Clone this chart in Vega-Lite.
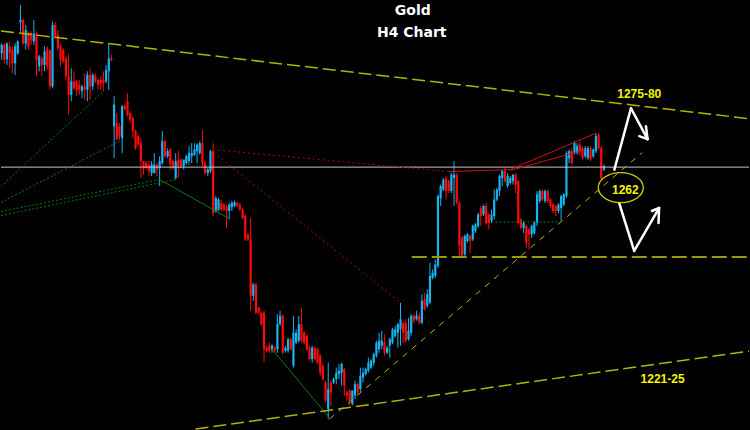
{
"$schema":"https://vega.github.io/schema/vega-lite/v6.json",
"width":750,"height":430,"padding":0,
"autosize":{"type":"fit","contains":"padding"},
"background":"#000000",
"config":{"view":{"stroke":null}},
"datasets":{
"candles":[
{"i":0,"o":1289.3,"h":1291.3,"l":1288,"c":1291},
{"i":1,"o":1291,"h":1291.3,"l":1287.3,"c":1288},
{"i":2,"o":1288.1,"h":1291.5,"l":1287,"c":1291.3},
{"i":3,"o":1290.7,"h":1291.7,"l":1286.3,"c":1289.3},
{"i":4,"o":1290,"h":1290.7,"l":1285.3,"c":1287.3},
{"i":5,"o":1287.3,"h":1291.3,"l":1285,"c":1290.7},
{"i":6,"o":1289.3,"h":1291.9,"l":1289,"c":1291.7},
{"i":7,"o":1295.5,"h":1299,"l":1293.7,"c":1296},
{"i":8,"o":1296,"h":1296.3,"l":1291,"c":1291.3},
{"i":9,"o":1291.3,"h":1295,"l":1290,"c":1294},
{"i":10,"o":1293.3,"h":1293.7,"l":1290,"c":1290.7},
{"i":11,"o":1293.3,"h":1293.7,"l":1291,"c":1292},
{"i":12,"o":1291.7,"h":1296,"l":1291,"c":1293.3},
{"i":13,"o":1293.3,"h":1293.7,"l":1284.7,"c":1288},
{"i":14,"o":1286.7,"h":1289,"l":1285.7,"c":1288.7},
{"i":15,"o":1288.3,"h":1288.7,"l":1284.7,"c":1287},
{"i":16,"o":1287,"h":1290.7,"l":1285.7,"c":1289.7},
{"i":17,"o":1290.3,"h":1290.7,"l":1286,"c":1286.7},
{"i":18,"o":1290,"h":1290,"l":1282,"c":1282.7},
{"i":19,"o":1282.7,"h":1295.7,"l":1282.3,"c":1295},
{"i":20,"o":1295,"h":1295.5,"l":1292.3,"c":1292.7},
{"i":21,"o":1293,"h":1294,"l":1290,"c":1290.3},
{"i":22,"o":1290.7,"h":1291.3,"l":1286.7,"c":1288},
{"i":23,"o":1290,"h":1290.3,"l":1287.3,"c":1287.7},
{"i":24,"o":1288.3,"h":1288.7,"l":1284,"c":1284.7},
{"i":25,"o":1284.7,"h":1289.3,"l":1277,"c":1281},
{"i":26,"o":1281,"h":1286.3,"l":1279.7,"c":1283.7},
{"i":27,"o":1283.7,"h":1285.7,"l":1282,"c":1282.3},
{"i":28,"o":1283.7,"h":1284,"l":1280.7,"c":1282},
{"i":29,"o":1283,"h":1284,"l":1281,"c":1282},
{"i":30,"o":1281.7,"h":1283,"l":1280.3,"c":1282.7},
{"i":31,"o":1282.7,"h":1285.3,"l":1280,"c":1282},
{"i":32,"o":1282,"h":1285.7,"l":1279.7,"c":1285},
{"i":33,"o":1285,"h":1286.3,"l":1280,"c":1282.7},
{"i":34,"o":1282.7,"h":1285.3,"l":1282,"c":1285},
{"i":35,"o":1284.8,"h":1285.3,"l":1283.3,"c":1283.7},
{"i":36,"o":1284,"h":1284.3,"l":1282,"c":1283},
{"i":37,"o":1284,"h":1284.7,"l":1282,"c":1283.3},
{"i":38,"o":1284,"h":1285.7,"l":1281.7,"c":1283.3},
{"i":39,"o":1283.7,"h":1287,"l":1283.3,"c":1286},
{"i":40,"o":1285.7,"h":1291.3,"l":1282,"c":1288.3},
{"i":41,"o":1288.3,"h":1289,"l":1287.7,"c":1288},
{"i":42,"o":1274.7,"h":1280.7,"l":1268.3,"c":1279},
{"i":43,"o":1275.3,"h":1277.3,"l":1272,"c":1272},
{"i":44,"o":1274.7,"h":1275.3,"l":1272,"c":1272.7},
{"i":45,"o":1272.3,"h":1279,"l":1269.3,"c":1278.7},
{"i":46,"o":1278.7,"h":1279.3,"l":1278,"c":1278.1},
{"i":47,"o":1279.7,"h":1281.3,"l":1276.7,"c":1277},
{"i":48,"o":1277.3,"h":1277.7,"l":1275.3,"c":1276},
{"i":49,"o":1276.3,"h":1276.7,"l":1272.3,"c":1273.7},
{"i":50,"o":1273.7,"h":1274,"l":1270,"c":1270.3},
{"i":51,"o":1272.7,"h":1273,"l":1270.7,"c":1271},
{"i":52,"o":1271.3,"h":1272.3,"l":1264.3,"c":1267.7},
{"i":53,"o":1267.7,"h":1267.7,"l":1265,"c":1266.3},
{"i":54,"o":1267.3,"h":1267.7,"l":1266,"c":1266.3},
{"i":55,"o":1267,"h":1267.7,"l":1264.7,"c":1265.7},
{"i":56,"o":1265.3,"h":1267.7,"l":1264.7,"c":1267},
{"i":57,"o":1265.3,"h":1269.3,"l":1265.3,"c":1267},
{"i":58,"o":1267,"h":1267.3,"l":1264.7,"c":1266},
{"i":59,"o":1266.3,"h":1268.7,"l":1262.7,"c":1267.7},
{"i":60,"o":1267.3,"h":1273.7,"l":1267,"c":1271.7},
{"i":61,"o":1271.7,"h":1272,"l":1268.3,"c":1268.7},
{"i":62,"o":1268.7,"h":1270.3,"l":1268.3,"c":1269.7},
{"i":63,"o":1270,"h":1270.3,"l":1266,"c":1267},
{"i":64,"o":1267.7,"h":1268,"l":1266,"c":1266.3},
{"i":65,"o":1264.3,"h":1269.3,"l":1264,"c":1267.7},
{"i":66,"o":1268,"h":1269.7,"l":1264.3,"c":1266.7},
{"i":67,"o":1268,"h":1268.3,"l":1266.3,"c":1266.7},
{"i":68,"o":1266.7,"h":1268,"l":1266,"c":1268},
{"i":69,"o":1267.3,"h":1269,"l":1267,"c":1268.7},
{"i":70,"o":1267.7,"h":1270.7,"l":1267,"c":1269.3},
{"i":71,"o":1268.7,"h":1271.3,"l":1267.3,"c":1269.3},
{"i":72,"o":1269,"h":1271.3,"l":1268.7,"c":1270},
{"i":73,"o":1269.7,"h":1271.3,"l":1267.3,"c":1271},
{"i":74,"o":1269.3,"h":1271.7,"l":1269,"c":1271.3},
{"i":75,"o":1271.3,"h":1274,"l":1266.7,"c":1267.3},
{"i":76,"o":1267.3,"h":1267.7,"l":1265,"c":1265.3},
{"i":77,"o":1265.3,"h":1266.3,"l":1264.7,"c":1266},
{"i":78,"o":1265.7,"h":1270,"l":1265.3,"c":1269.7},
{"i":79,"o":1269.7,"h":1271.3,"l":1256.7,"c":1257.3},
{"i":80,"o":1257.7,"h":1260.7,"l":1257.3,"c":1260.3},
{"i":81,"o":1258,"h":1260.3,"l":1257.7,"c":1260},
{"i":82,"o":1259.3,"h":1260,"l":1257.7,"c":1258},
{"i":83,"o":1259,"h":1259.3,"l":1257.7,"c":1258},
{"i":84,"o":1258.5,"h":1259,"l":1254.3,"c":1257.7},
{"i":85,"o":1257.7,"h":1259.3,"l":1256,"c":1259},
{"i":86,"o":1258.5,"h":1259.7,"l":1257.7,"c":1259.3},
{"i":87,"o":1258.7,"h":1259.8,"l":1258.5,"c":1259.5},
{"i":88,"o":1259.3,"h":1259.5,"l":1258.5,"c":1258.8},
{"i":89,"o":1259,"h":1259.3,"l":1257.7,"c":1258},
{"i":90,"o":1258,"h":1258.3,"l":1256,"c":1256.3},
{"i":91,"o":1256.7,"h":1257,"l":1251.7,"c":1252},
{"i":92,"o":1253,"h":1253.3,"l":1251.7,"c":1252},
{"i":93,"o":1252,"h":1256.3,"l":1237.7,"c":1240.7},
{"i":94,"o":1240.7,"h":1243.3,"l":1239.7,"c":1243},
{"i":95,"o":1243,"h":1243.3,"l":1237,"c":1237.3},
{"i":96,"o":1238.3,"h":1238.5,"l":1237,"c":1237.3},
{"i":97,"o":1237.3,"h":1237.5,"l":1234.7,"c":1235},
{"i":98,"o":1237.3,"h":1237.7,"l":1227.3,"c":1230},
{"i":99,"o":1230.3,"h":1230.7,"l":1229.3,"c":1229.7},
{"i":100,"o":1230.7,"h":1231.3,"l":1229.3,"c":1229.7},
{"i":101,"o":1230,"h":1231,"l":1229.3,"c":1230.7},
{"i":102,"o":1230.3,"h":1230.7,"l":1229.3,"c":1229.7},
{"i":103,"o":1230,"h":1237,"l":1229.3,"c":1235},
{"i":104,"o":1235,"h":1237.7,"l":1234.7,"c":1236.7},
{"i":105,"o":1236.7,"h":1237,"l":1229,"c":1229.3},
{"i":106,"o":1229.7,"h":1230.7,"l":1229.3,"c":1230.3},
{"i":107,"o":1229.7,"h":1232.3,"l":1229.3,"c":1232},
{"i":108,"o":1232,"h":1232.3,"l":1229.7,"c":1230},
{"i":109,"o":1226.7,"h":1236.7,"l":1226.3,"c":1233.3},
{"i":110,"o":1231.3,"h":1234,"l":1231,"c":1233.3},
{"i":111,"o":1231.7,"h":1236.7,"l":1231.3,"c":1235},
{"i":112,"o":1235,"h":1238.3,"l":1231.3,"c":1231.7},
{"i":113,"o":1233.3,"h":1233.7,"l":1231,"c":1231.3},
{"i":114,"o":1232.7,"h":1233,"l":1229.7,"c":1230},
{"i":115,"o":1230.3,"h":1230.7,"l":1227.7,"c":1228},
{"i":116,"o":1228,"h":1230.7,"l":1227.3,"c":1230.3},
{"i":117,"o":1230.3,"h":1230.5,"l":1227.8,"c":1228},
{"i":118,"o":1230,"h":1230.3,"l":1227,"c":1227.3},
{"i":119,"o":1228.7,"h":1229,"l":1224.7,"c":1225.3},
{"i":120,"o":1226.7,"h":1227,"l":1223.7,"c":1224},
{"i":121,"o":1223.3,"h":1223.7,"l":1219.3,"c":1219.7},
{"i":122,"o":1218,"h":1227.3,"l":1216,"c":1222},
{"i":123,"o":1223.3,"h":1223.7,"l":1218.7,"c":1221.3},
{"i":124,"o":1223.3,"h":1224.3,"l":1223,"c":1224},
{"i":125,"o":1224,"h":1226.3,"l":1223,"c":1225.3},
{"i":126,"o":1225,"h":1227,"l":1224,"c":1225.7},
{"i":127,"o":1225.3,"h":1227.3,"l":1222.7,"c":1227},
{"i":128,"o":1226,"h":1226.3,"l":1220.7,"c":1222.7},
{"i":129,"o":1221.3,"h":1221.7,"l":1219.7,"c":1220.7},
{"i":130,"o":1221.7,"h":1222,"l":1218.7,"c":1219.7},
{"i":131,"o":1219,"h":1221.7,"l":1218.7,"c":1221.7},
{"i":132,"o":1220.7,"h":1223.7,"l":1220,"c":1223},
{"i":133,"o":1223,"h":1223.3,"l":1221,"c":1221.3},
{"i":134,"o":1222,"h":1226.3,"l":1221.3,"c":1224.7},
{"i":135,"o":1224.3,"h":1226.3,"l":1223.3,"c":1225.3},
{"i":136,"o":1225,"h":1226.3,"l":1224.7,"c":1226},
{"i":137,"o":1225.7,"h":1228.3,"l":1225.3,"c":1227.3},
{"i":138,"o":1226.3,"h":1228,"l":1226,"c":1227.7},
{"i":139,"o":1227.3,"h":1229.3,"l":1226.7,"c":1229},
{"i":140,"o":1228.7,"h":1231.7,"l":1228.3,"c":1231.3},
{"i":141,"o":1230,"h":1233.3,"l":1229.3,"c":1231.7},
{"i":142,"o":1230.7,"h":1233.7,"l":1230,"c":1231.7},
{"i":143,"o":1231.3,"h":1233,"l":1228.7,"c":1229.3},
{"i":144,"o":1229.3,"h":1230.7,"l":1229,"c":1230.3},
{"i":145,"o":1230.7,"h":1232.3,"l":1228.3,"c":1232},
{"i":146,"o":1231.3,"h":1234.3,"l":1231,"c":1234},
{"i":147,"o":1232.7,"h":1234.7,"l":1232.3,"c":1234},
{"i":148,"o":1233.3,"h":1235.3,"l":1230.3,"c":1235},
{"i":149,"o":1234,"h":1239.3,"l":1230.7,"c":1236},
{"i":150,"o":1235.3,"h":1235.7,"l":1231.3,"c":1233.3},
{"i":151,"o":1235.3,"h":1236,"l":1231.3,"c":1231.7},
{"i":152,"o":1232,"h":1236.3,"l":1231.7,"c":1233.7},
{"i":153,"o":1233.3,"h":1237,"l":1232.7,"c":1236.7},
{"i":154,"o":1236.7,"h":1237,"l":1235.3,"c":1235.7},
{"i":155,"o":1236,"h":1237.7,"l":1235.7,"c":1236.7},
{"i":156,"o":1236.7,"h":1237.3,"l":1235,"c":1235.3},
{"i":157,"o":1235.3,"h":1241,"l":1235,"c":1239.7},
{"i":158,"o":1240,"h":1241.3,"l":1237.7,"c":1238},
{"i":159,"o":1238.7,"h":1242,"l":1238.3,"c":1241},
{"i":160,"o":1239.3,"h":1247.3,"l":1239,"c":1244.7},
{"i":161,"o":1244.3,"h":1246,"l":1244,"c":1245.3},
{"i":162,"o":1244.7,"h":1248,"l":1244.3,"c":1247},
{"i":163,"o":1246.7,"h":1261,"l":1246.3,"c":1260.7},
{"i":164,"o":1260.3,"h":1263,"l":1258.7,"c":1262.7},
{"i":165,"o":1262,"h":1264.3,"l":1261.7,"c":1264},
{"i":166,"o":1264.3,"h":1264.7,"l":1260,"c":1261.7},
{"i":167,"o":1263.7,"h":1264,"l":1261.3,"c":1261.7},
{"i":168,"o":1261.7,"h":1265.3,"l":1261.3,"c":1265},
{"i":169,"o":1264.3,"h":1267.7,"l":1258.7,"c":1265},
{"i":170,"o":1265,"h":1265.3,"l":1259,"c":1259.3},
{"i":171,"o":1259.3,"h":1259.7,"l":1248.7,"c":1250.7},
{"i":172,"o":1252.3,"h":1252.7,"l":1248.3,"c":1248.7},
{"i":173,"o":1249,"h":1253,"l":1248.7,"c":1252.7},
{"i":174,"o":1251.7,"h":1253.3,"l":1251.3,"c":1253},
{"i":175,"o":1252.7,"h":1253,"l":1249.3,"c":1251.7},
{"i":176,"o":1252,"h":1255,"l":1251.7,"c":1254.7},
{"i":177,"o":1253.7,"h":1255.3,"l":1253.3,"c":1255},
{"i":178,"o":1254.7,"h":1257.3,"l":1254.3,"c":1257},
{"i":179,"o":1258.3,"h":1258.7,"l":1254.7,"c":1256.7},
{"i":180,"o":1257,"h":1259,"l":1256.7,"c":1258.7},
{"i":181,"o":1258.7,"h":1259.3,"l":1255,"c":1255.3},
{"i":182,"o":1257,"h":1257.3,"l":1254,"c":1255.3},
{"i":183,"o":1255.7,"h":1258,"l":1255.3,"c":1257},
{"i":184,"o":1256.7,"h":1262,"l":1256,"c":1260},
{"i":185,"o":1260,"h":1262.3,"l":1259.7,"c":1262},
{"i":186,"o":1261.7,"h":1265,"l":1260.7,"c":1264.7},
{"i":187,"o":1264.3,"h":1266,"l":1262.7,"c":1265.7},
{"i":188,"o":1265.7,"h":1266.3,"l":1263.3,"c":1263.7},
{"i":189,"o":1262.7,"h":1265.3,"l":1262.3,"c":1264.7},
{"i":190,"o":1263.3,"h":1264.7,"l":1263,"c":1264.3},
{"i":191,"o":1263.7,"h":1265,"l":1263,"c":1265},
{"i":192,"o":1265,"h":1265.3,"l":1261.3,"c":1263},
{"i":193,"o":1263.7,"h":1264,"l":1255,"c":1255.3},
{"i":194,"o":1256,"h":1256.3,"l":1254,"c":1254.3},
{"i":195,"o":1254.3,"h":1255.7,"l":1253.3,"c":1255.3},
{"i":196,"o":1254.7,"h":1255,"l":1250.3,"c":1251.3},
{"i":197,"o":1254,"h":1254.3,"l":1250,"c":1253},
{"i":198,"o":1253,"h":1255,"l":1252.3,"c":1254.7},
{"i":199,"o":1253.3,"h":1255.7,"l":1253,"c":1255.3},
{"i":200,"o":1255.3,"h":1261.7,"l":1254.7,"c":1261},
{"i":201,"o":1259.7,"h":1262,"l":1259.3,"c":1261.7},
{"i":202,"o":1261.7,"h":1262,"l":1259.7,"c":1260},
{"i":203,"o":1259.7,"h":1262,"l":1259.3,"c":1261.7},
{"i":204,"o":1261.7,"h":1262,"l":1259.3,"c":1259.7},
{"i":205,"o":1260,"h":1260.3,"l":1258.3,"c":1258.7},
{"i":206,"o":1259,"h":1259.3,"l":1257.3,"c":1257.7},
{"i":207,"o":1258.7,"h":1259,"l":1256.7,"c":1257.7},
{"i":208,"o":1257.7,"h":1259.3,"l":1257.3,"c":1259},
{"i":209,"o":1258.3,"h":1261,"l":1255.7,"c":1260.7},
{"i":210,"o":1259,"h":1261.3,"l":1258.7,"c":1261},
{"i":211,"o":1260.7,"h":1269.7,"l":1260.3,"c":1269.3},
{"i":212,"o":1268.3,"h":1270,"l":1267.3,"c":1269.7},
{"i":213,"o":1269.7,"h":1270.3,"l":1267,"c":1267.3},
{"i":214,"o":1269.3,"h":1271.7,"l":1269,"c":1271.3},
{"i":215,"o":1269.3,"h":1271.3,"l":1269,"c":1270.7},
{"i":216,"o":1271,"h":1271.7,"l":1268.7,"c":1269.7},
{"i":217,"o":1270.3,"h":1270.7,"l":1268,"c":1268.3},
{"i":218,"o":1268.7,"h":1270.7,"l":1268.3,"c":1270.3},
{"i":219,"o":1268.3,"h":1270.7,"l":1268,"c":1270.3},
{"i":220,"o":1270.3,"h":1270.7,"l":1267.7,"c":1268},
{"i":221,"o":1268.7,"h":1270.3,"l":1268.3,"c":1270},
{"i":222,"o":1269.7,"h":1273.3,"l":1269.3,"c":1272.7},
{"i":223,"o":1273,"h":1273.3,"l":1270,"c":1270.3},
{"i":224,"o":1270.3,"h":1270.7,"l":1264,"c":1264.3},
{"i":225,"o":1266,"h":1267,"l":1265.7,"c":1266.7}
],
"segs":[
{"g":"white","x":-0.26,"y":1266.5,"x2":279.2,"y2":1266.5},
{"g":"ytrend","x":-0.26,"y":1293.8,"x2":279.2,"y2":1276.2},
{"g":"ytrend","x":72.4,"y":1214,"x2":279.2,"y2":1229.6},
{"g":"ysup","x":122.5,"y":1216,"x2":239.3,"y2":1269.4},
{"g":"yhor","x":153.2,"y":1248.5,"x2":279.2,"y2":1248.5},
{"g":"rdot","x":79,"y":1270,"x2":167,"y2":1265.6},
{"g":"rdot","x":79.3,"y":1269.4,"x2":149,"y2":1239.3},
{"g":"rsol","x":167,"y":1265.6,"x2":190,"y2":1266},
{"g":"rsol","x":190,"y":1266,"x2":222,"y2":1273.3},
{"g":"rsol","x":190,"y":1265.8,"x2":218,"y2":1270},
{"g":"gdot","x":-0.26,"y":1262.6,"x2":38,"y2":1281.7},
{"g":"gdot","x":-0.26,"y":1259.4,"x2":45,"y2":1272},
{"g":"gdot","x":-0.26,"y":1257.6,"x2":59,"y2":1264},
{"g":"gdot","x":-0.26,"y":1256.8,"x2":65,"y2":1264},
{"g":"gdot","x":183,"y":1255.5,"x2":208,"y2":1255.5},
{"g":"gsol","x":59,"y":1264,"x2":85,"y2":1256.2},
{"g":"gsol","x":101,"y":1230,"x2":122,"y2":1216.5},
{"g":"arrow","x":228.9,"y":1266,"x2":235.1,"y2":1278.3},
{"g":"arrow","x":235.1,"y":1278.3,"x2":241.3,"y2":1272.1},
{"g":"arrow","x":241.3,"y":1272.1,"x2":238.2,"y2":1272.7},
{"g":"arrow","x":241.3,"y":1272.1,"x2":240.7,"y2":1274.7},
{"g":"arrow","x":230.7,"y":1259.3,"x2":236.3,"y2":1249.7},
{"g":"arrow","x":236.3,"y":1249.7,"x2":245.6,"y2":1258.3},
{"g":"arrow","x":245.6,"y":1258.3,"x2":242.9,"y2":1257.7},
{"g":"arrow","x":245.6,"y":1258.3,"x2":245.4,"y2":1255.3}
],
"labels":[
{"t":"Gold","x":153.6,"y":1297.8,"k":"title"},
{"t":"H4 Chart","x":153.2,"y":1293.4,"k":"title"},
{"t":"1275-80","x":238.2,"y":1281.1,"k":"lab"},
{"t":"1262","x":233,"y":1262,"k":"lab"},
{"t":"1221-25","x":246.9,"y":1224.1,"k":"lab"}
],
"ell":[{"x":231.3,"y":1262.4}]
},
"layer":[
{"data":{"name":"candles"},"mark":{"type":"rule","strokeWidth":1},
 "encoding":{"x":{"field":"i","type":"quantitative","scale":{"domain":[-0.26,279.2],"nice":false,"zero":false},"axis":null},
 "y":{"field":"l","type":"quantitative","scale":{"domain":[1214,1300],"nice":false,"zero":false},"axis":null},
 "y2":{"field":"h"},
 "color":{"condition":{"test":"datum.c >= datum.o","value":"#17b3f2"},"value":"#ff0a0a"}}},
{"data":{"name":"candles"},"mark":{"type":"rule","strokeWidth":2.2},
 "encoding":{"x":{"field":"i","type":"quantitative","scale":{"domain":[-0.26,279.2],"nice":false,"zero":false},"axis":null},
 "y":{"field":"o","type":"quantitative","scale":{"domain":[1214,1300],"nice":false,"zero":false},"axis":null},
 "y2":{"field":"c"},
 "color":{"condition":{"test":"datum.c >= datum.o","value":"#17b3f2"},"value":"#ff0a0a"}}},
{"data":{"name":"segs"},"transform":[{"filter":"datum.g == 'white'"}],"mark":{"type":"rule","stroke":"#c8c8c8","strokeWidth":1},
 "encoding":{"x":{"field":"x","type":"quantitative","scale":{"domain":[-0.26,279.2],"nice":false,"zero":false},"axis":null},"y":{"field":"y","type":"quantitative","scale":{"domain":[1214,1300],"nice":false,"zero":false},"axis":null},"x2":{"field":"x2"},"y2":{"field":"y2"}}},
{"data":{"name":"segs"},"transform":[{"filter":"datum.g == 'gdot'"}],"mark":{"type":"rule","stroke":"#0c7a0c","strokeWidth":1,"strokeDash":[2,2]},
 "encoding":{"x":{"field":"x","type":"quantitative","scale":{"domain":[-0.26,279.2],"nice":false,"zero":false},"axis":null},"y":{"field":"y","type":"quantitative","scale":{"domain":[1214,1300],"nice":false,"zero":false},"axis":null},"x2":{"field":"x2"},"y2":{"field":"y2"}}},
{"data":{"name":"segs"},"transform":[{"filter":"datum.g == 'gsol'"}],"mark":{"type":"rule","stroke":"#107a10","strokeWidth":1},
 "encoding":{"x":{"field":"x","type":"quantitative","scale":{"domain":[-0.26,279.2],"nice":false,"zero":false},"axis":null},"y":{"field":"y","type":"quantitative","scale":{"domain":[1214,1300],"nice":false,"zero":false},"axis":null},"x2":{"field":"x2"},"y2":{"field":"y2"}}},
{"data":{"name":"segs"},"transform":[{"filter":"datum.g == 'rdot'"}],"mark":{"type":"rule","stroke":"#b00000","strokeWidth":1,"strokeDash":[2,3]},
 "encoding":{"x":{"field":"x","type":"quantitative","scale":{"domain":[-0.26,279.2],"nice":false,"zero":false},"axis":null},"y":{"field":"y","type":"quantitative","scale":{"domain":[1214,1300],"nice":false,"zero":false},"axis":null},"x2":{"field":"x2"},"y2":{"field":"y2"}}},
{"data":{"name":"segs"},"transform":[{"filter":"datum.g == 'rsol'"}],"mark":{"type":"rule","stroke":"#d01010","strokeWidth":1},
 "encoding":{"x":{"field":"x","type":"quantitative","scale":{"domain":[-0.26,279.2],"nice":false,"zero":false},"axis":null},"y":{"field":"y","type":"quantitative","scale":{"domain":[1214,1300],"nice":false,"zero":false},"axis":null},"x2":{"field":"x2"},"y2":{"field":"y2"}}},
{"data":{"name":"segs"},"transform":[{"filter":"datum.g == 'ytrend'"}],"mark":{"type":"rule","stroke":"#b4b400","strokeWidth":1.5,"strokeDash":[13,5]},
 "encoding":{"x":{"field":"x","type":"quantitative","scale":{"domain":[-0.26,279.2],"nice":false,"zero":false},"axis":null},"y":{"field":"y","type":"quantitative","scale":{"domain":[1214,1300],"nice":false,"zero":false},"axis":null},"x2":{"field":"x2"},"y2":{"field":"y2"}}},
{"data":{"name":"segs"},"transform":[{"filter":"datum.g == 'ysup'"}],"mark":{"type":"rule","stroke":"#b8b800","strokeWidth":1,"strokeDash":[6,6]},
 "encoding":{"x":{"field":"x","type":"quantitative","scale":{"domain":[-0.26,279.2],"nice":false,"zero":false},"axis":null},"y":{"field":"y","type":"quantitative","scale":{"domain":[1214,1300],"nice":false,"zero":false},"axis":null},"x2":{"field":"x2"},"y2":{"field":"y2"}}},
{"data":{"name":"segs"},"transform":[{"filter":"datum.g == 'yhor'"}],"mark":{"type":"rule","stroke":"#9a9a00","strokeWidth":2,"strokeDash":[15,5]},
 "encoding":{"x":{"field":"x","type":"quantitative","scale":{"domain":[-0.26,279.2],"nice":false,"zero":false},"axis":null},"y":{"field":"y","type":"quantitative","scale":{"domain":[1214,1300],"nice":false,"zero":false},"axis":null},"x2":{"field":"x2"},"y2":{"field":"y2"}}},
{"data":{"name":"segs"},"transform":[{"filter":"datum.g == 'arrow'"}],"mark":{"type":"rule","stroke":"#ffffff","strokeWidth":2.5,"strokeCap":"round"},
 "encoding":{"x":{"field":"x","type":"quantitative","scale":{"domain":[-0.26,279.2],"nice":false,"zero":false},"axis":null},"y":{"field":"y","type":"quantitative","scale":{"domain":[1214,1300],"nice":false,"zero":false},"axis":null},"x2":{"field":"x2"},"y2":{"field":"y2"}}},
{"data":{"name":"ell"},"mark":{"type":"point","shape":"M-1,0A1,0.667,0,1,0,1,0A1,0.667,0,1,0,-1,0Z","size":2025,"filled":false,"color":"#d0d000","strokeWidth":1.3,"opacity":1},
 "encoding":{"x":{"field":"x","type":"quantitative","scale":{"domain":[-0.26,279.2],"nice":false,"zero":false},"axis":null},"y":{"field":"y","type":"quantitative","scale":{"domain":[1214,1300],"nice":false,"zero":false},"axis":null}}},
{"data":{"name":"labels"},"transform":[{"filter":"datum.k == 'title'"}],"mark":{"type":"text","font":"DejaVu Sans","fontWeight":"bold","fontSize":14,"color":"#ffffff","align":"center","baseline":"middle"},
 "encoding":{"x":{"field":"x","type":"quantitative","scale":{"domain":[-0.26,279.2],"nice":false,"zero":false},"axis":null},"y":{"field":"y","type":"quantitative","scale":{"domain":[1214,1300],"nice":false,"zero":false},"axis":null},"text":{"field":"t"}}},
{"data":{"name":"labels"},"transform":[{"filter":"datum.k == 'lab'"}],"mark":{"type":"text","font":"Liberation Sans","fontWeight":"bold","fontSize":12,"color":"#f5f500","align":"center","baseline":"middle"},
 "encoding":{"x":{"field":"x","type":"quantitative","scale":{"domain":[-0.26,279.2],"nice":false,"zero":false},"axis":null},"y":{"field":"y","type":"quantitative","scale":{"domain":[1214,1300],"nice":false,"zero":false},"axis":null},"text":{"field":"t"}}}
]
}
